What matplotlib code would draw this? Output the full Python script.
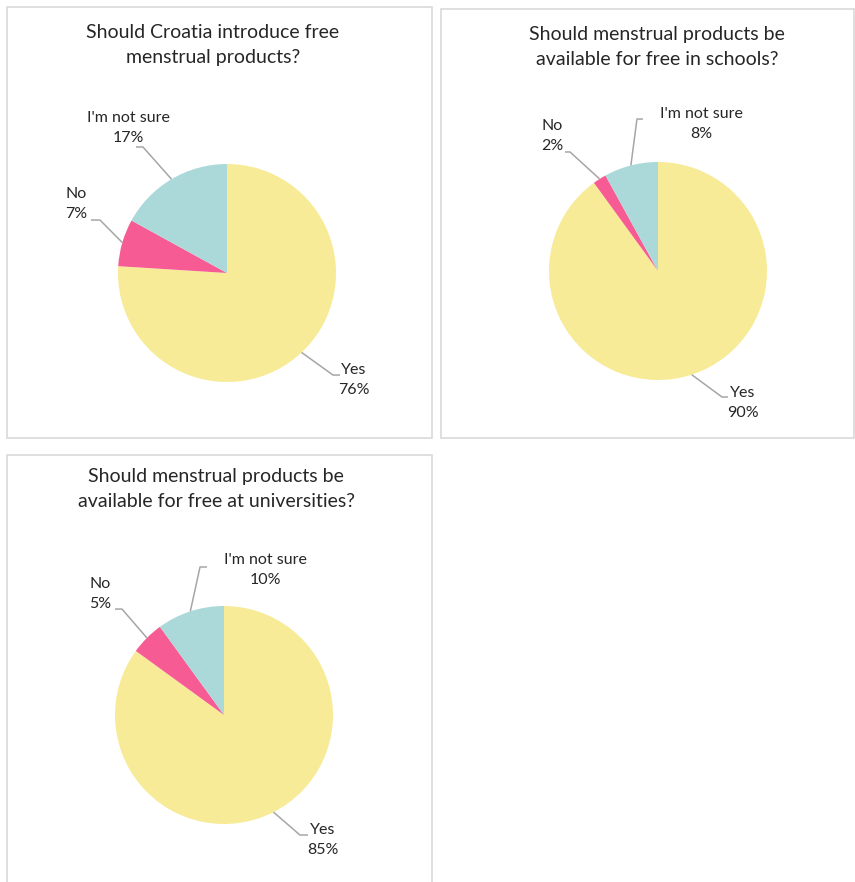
import numpy as np
from matplotlib import pyplot as plt
from matplotlib import patches as mpatches

W, H = 855, 882

answers = ["Yes", "No", "I'm not sure"]
colors = ["#F7EB98", "#F65C93", "#ABD9DA"]

titles = [
    "Should Croatia introduce free\nmenstrual products?",
    "Should menstrual products be\navailable for free in schools?",
    "Should menstrual products be\navailable for free at universities?",
]
share_croatia = [76, 7, 17]
share_schools = [90, 2, 8]
share_universities = [85, 5, 10]
shares = [share_croatia, share_schools, share_universities]

# panel frames (left, top, right, bottom) in pixels, pie centre and title centre
frames = [(7, 7, 432, 438), (441, 9, 854, 438), (7, 455, 432, 890)]
centres = [(227, 273), (658, 271), (224, 715)]
title_pos = [(213, 45), (657, 47), (216, 489)]
R = 109

# label centre and leader elbow/end for each answer, in pie radii
label_layout = [
    [((1.165, -0.982), (0.972, -0.936), (1.037, -0.936)),
     ((-1.385, 0.633), (-1.165, 0.486), (-1.248, 0.486)),
     ((-0.908, 1.33), (-0.771, 1.156), (-0.835, 1.156))],
    [((0.78, -1.211), (0.587, -1.156), (0.642, -1.156)),
     ((-0.972, 1.239), (-0.807, 1.092), (-0.853, 1.092)),
     ((0.394, 1.349), (-0.193, 1.394), (-0.138, 1.394))],
    [((0.908, -1.147), (0.697, -1.101), (0.771, -1.101)),
     ((-1.138, 1.11), (-0.936, 0.972), (-1.0, 0.972)),
     ((0.376, 1.33), (-0.22, 1.358), (-0.156, 1.358))],
]

plt.rcParams['font.family'] = ['Lato', 'DejaVu Sans']
text_color = "#262626"

fig = plt.figure(figsize=(W / 100, H / 100), dpi=100)
fig.patch.set_facecolor("white")

for i in range(3):
    l, t, r, b = frames[i]
    fig.patches.append(mpatches.Rectangle(
        (l / W, 1 - b / H), (r - l) / W, (b - t) / H, transform=fig.transFigure,
        facecolor="none", edgecolor="#D9D9D9", lw=1.2))

    tx, ty = title_pos[i]
    fig.text(tx / W, 1 - ty / H, titles[i], ha="center", va="center",
             fontsize=14, color=text_color, linespacing=1.6)

    cx, cy = centres[i]
    ax = fig.add_axes([(cx - 2 * R) / W, 1 - (cy + 2 * R) / H, 4 * R / W, 4 * R / H])
    ax.axis("off")
    wedges, _ = ax.pie(shares[i], colors=colors, startangle=90, counterclock=False,
                       radius=1, wedgeprops=dict(linewidth=0))
    ax.set_xlim(-2, 2)
    ax.set_ylim(-2, 2)

    for j, w in enumerate(wedges):
        mid = np.deg2rad((w.theta1 + w.theta2) / 2)
        edge = (np.cos(mid), np.sin(mid))
        (lx, ly), elbow, end = label_layout[i][j]
        ax.plot([edge[0], elbow[0], end[0]], [edge[1], elbow[1], end[1]],
                color="#A6A6A6", lw=1.1, solid_capstyle="butt", clip_on=False)
        ax.text(lx, ly, "%s\n%d%%" % (answers[j], shares[i][j]), ha="center",
                va="center", fontsize=11.5, color=text_color, linespacing=1.6,
                clip_on=False)

fig.savefig("out.png", dpi=100, facecolor="white")
